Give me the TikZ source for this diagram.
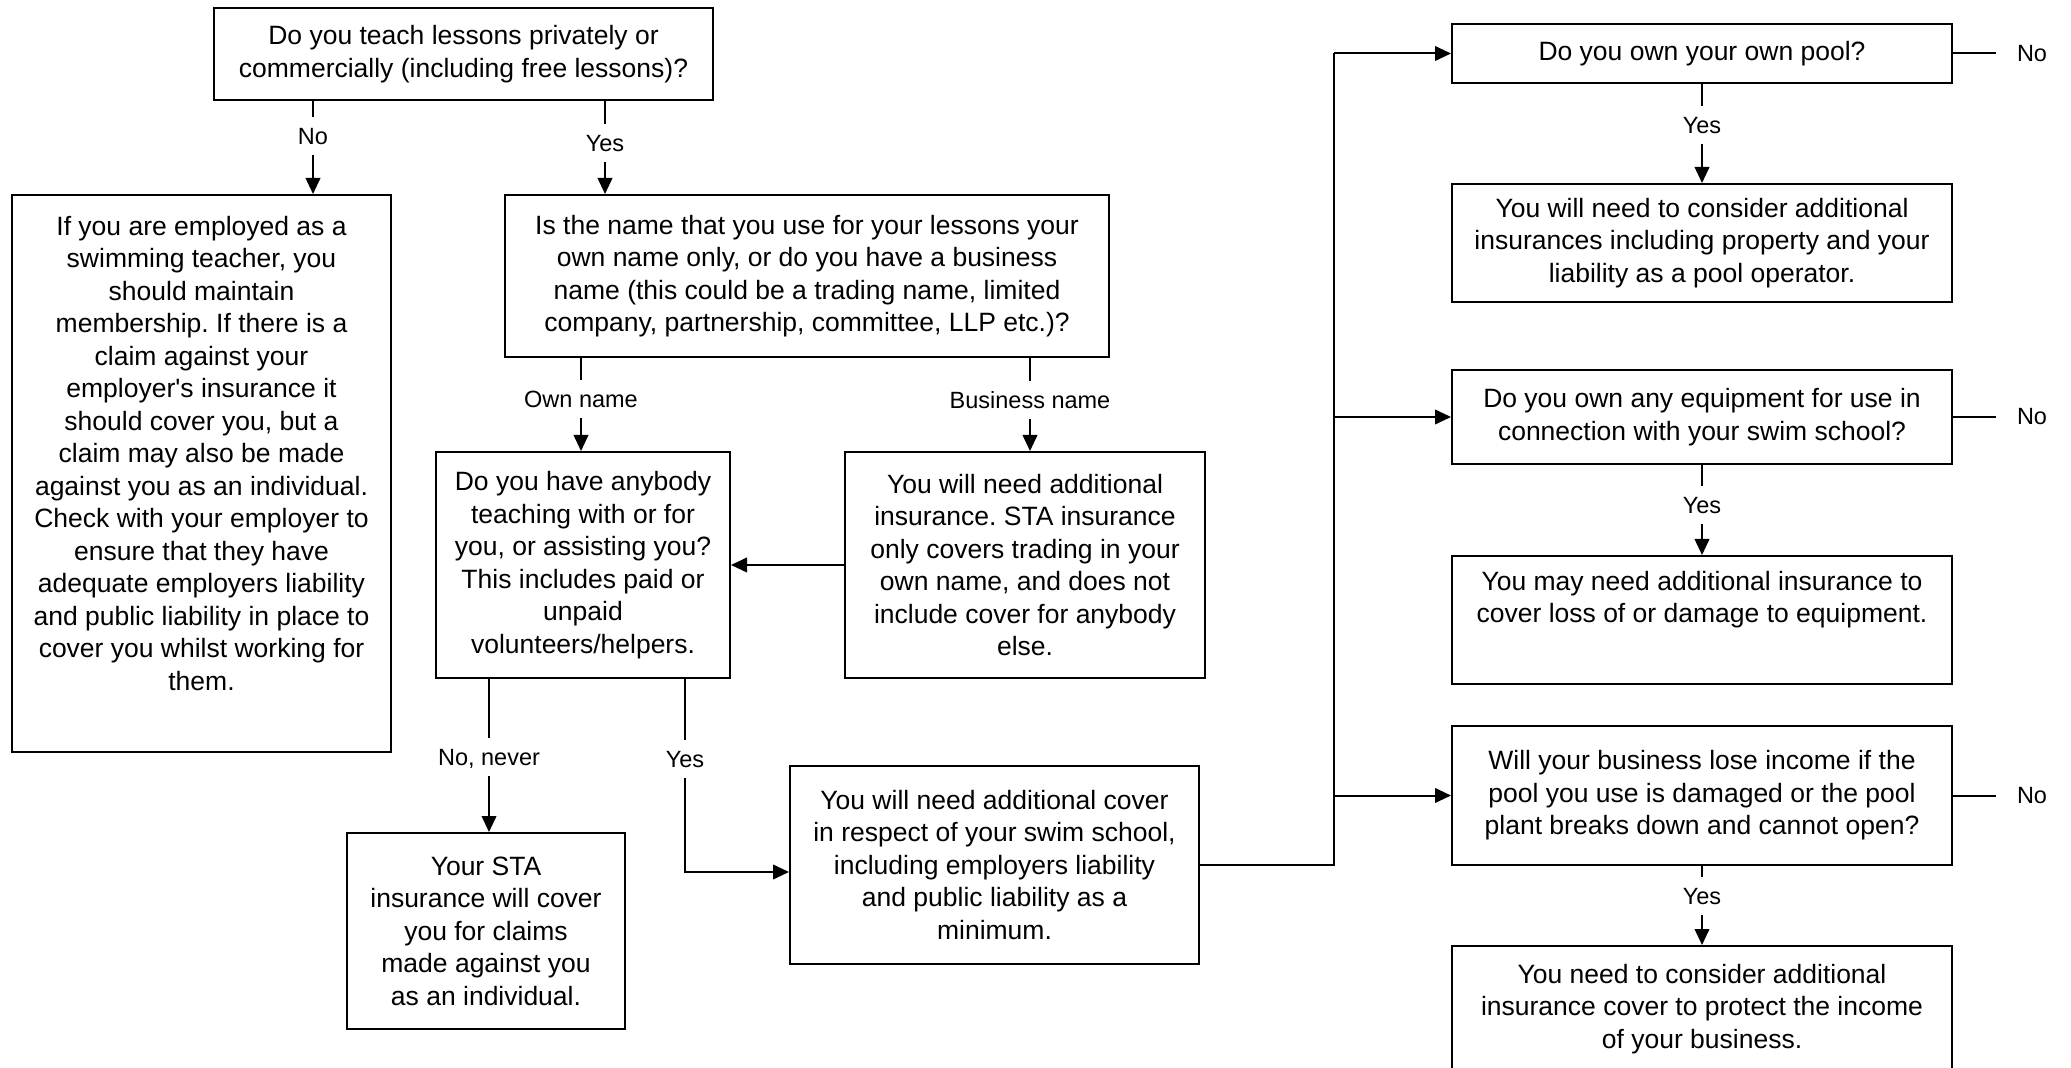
\documentclass[tikz,border=0pt]{standalone}
\usepackage{fontspec}
\setmainfont{Liberation Sans}
\usetikzlibrary{arrows.meta,calc}
\newcommand\bodyfnt{\fontsize{13.25pt}{16.25pt}\selectfont}
\newcommand\lblfnt{\fontsize{11.75pt}{14pt}\selectfont}
\frenchspacing
\begin{document}
\begin{tikzpicture}[x=0.5pt,y=-0.5pt,
  box/.style={draw,line width=1pt,inner sep=0pt,align=center,font=\bodyfnt},
  bodytxt/.style={inner sep=0pt,align=center,font=\bodyfnt},
  lbl/.style={font=\lblfnt,inner xsep=2pt,inner ysep=5pt,text height=8.4pt,text depth=0pt},
  nolbl/.style={font=\lblfnt,inner xsep=10.5pt,inner ysep=2pt},
  conn/.style={line width=1pt},
  arr/.style={line width=1pt,-{Triangle[length=8pt,width=7.3pt]}}]
\useasboundingbox (0,0) rectangle (2071,1068);
\clip (0,0) rectangle (2071,1068);
\fill[white] (0,0) rectangle (2071,1068);

% boxes
\node[box,minimum width=249.5pt,minimum height=46pt] (top) at (463.5,54)
  {Do you teach lessons privately or\\commercially (including free lessons)?};
\node[box,minimum width=189.5pt,minimum height=278.5pt] (left) at (201.5,473.5) {};
\node[bodytxt] (lefttxt) at (201.5,453.5)
  {If you are employed as a\\swimming teacher, you\\should maintain\\membership. If there is a\\claim against your\\employer\textquotesingle s insurance it\\should cover you, but a\\claim may also be made\\against you as an individual.\\Check with your employer to\\ensure that they have\\adequate employers liability\\and public liability in place to\\cover you whilst working for\\them.};
\node[box,minimum width=302pt,minimum height=81pt] (name) at (807,276)
  {Is the name that you use for your lessons your\\own name only, or do you have a business\\name (this could be a trading name, limited\\company, partnership, committee, LLP etc.)?};
\node[box,minimum width=147pt,minimum height=113pt] (anybody) at (583,565)
  {Do you have anybody\\teaching with or for\\you, or assisting you?\\This includes paid or\\unpaid\\volunteers/helpers.};
\node[box,minimum width=180pt,minimum height=113pt] (business) at (1025,565)
  {You will need additional\\insurance. STA insurance\\only covers trading in your\\own name, and does not\\include cover for anybody\\else.};
\node[box,minimum width=139pt,minimum height=98pt] (sta) at (486,931)
  {Your STA\\insurance will cover\\you for claims\\made against you\\as an individual.};
\node[box,minimum width=204.5pt,minimum height=99pt] (cover) at (994.5,865)
  {You will need additional cover\\in respect of your swim school,\\including employers liability\\and public liability as a\\minimum.};
\node[box,minimum width=250pt,minimum height=29.5pt] (pool) at (1702,53.5)
  {Do you own your own pool?};
\node[box,minimum width=250pt,minimum height=59pt] (consider) at (1702,243)
  {You will need to consider additional\\insurances including property and your\\liability as a pool operator.};
\node[box,minimum width=250pt,minimum height=47pt] (equip) at (1702,417)
  {Do you own any equipment for use in\\connection with your swim school?};
\node[box,minimum width=250pt,minimum height=64pt] (equipres) at (1702,620) {};
\node[bodytxt] (equiprestxt) at (1702,599.5)
  {You may need additional insurance to\\cover loss of or damage to equipment.};
\node[box,minimum width=250pt,minimum height=69.5pt] (income) at (1702,795.5)
  {Will your business lose income if the\\pool you use is damaged or the pool\\plant breaks down and cannot open?};
\node[box,minimum width=250pt,minimum height=74pt] (incomeres) at (1702,1020) {};
\node[bodytxt] (incomerestxt) at (1702,1009)
  {You need to consider additional\\insurance cover to protect the income\\of your business.};

% labels
\node[lbl] (l1) at (313,136) {No};
\node[lbl] (l2) at (605,143) {Yes};
\node[lbl] (l3) at (581,399) {Own name};
\node[lbl] (l4) at (1030,400) {Business name};
\node[lbl] (l5) at (489,757) {No, never};
\node[lbl] (l6) at (685,759) {Yes};
\node[lbl] (y1) at (1702,125) {Yes};
\node[lbl] (y2) at (1702,505) {Yes};
\node[lbl] (y3) at (1702,896) {Yes};
\node[nolbl] (n1) at (2032,53.5) {No};
\node[nolbl] (n2) at (2032,417) {No};
\node[nolbl] (n3) at (2032,795.5) {No};

% connectors
\draw[conn] (l1.north |- top.south) -- (l1.north);
\draw[arr] (l1.south) -- (l1.south |- left.north);
\draw[conn] (l2.north |- top.south) -- (l2.north);
\draw[arr] (l2.south) -- (l2.south |- name.north);
\draw[conn] (l3.north |- name.south) -- (l3.north);
\draw[arr] (l3.south) -- (l3.south |- anybody.north);
\draw[conn] (l4.north |- name.south) -- (l4.north);
\draw[arr] (l4.south) -- (l4.south |- business.north);
\draw[arr] (business.west) -- (anybody.east);
\draw[conn] (l5.north |- anybody.south) -- (l5.north);
\draw[arr] (l5.south) -- (l5.south |- sta.north);
\draw[conn] (l6.north |- anybody.south) -- (l6.north);
\draw[arr] (l6.south) |- ([yshift=-3.5pt]cover.west);

\coordinate (spine) at (1334,500);
\draw[conn] (cover.east) -| (spine |- pool.west);
\draw[arr] (spine |- pool.west) -- (pool.west);
\draw[arr] (spine |- equip.west) -- (equip.west);
\draw[arr] (spine |- income.west) -- (income.west);

\draw[conn] (y1.north |- pool.south) -- (y1.north);
\draw[arr] (y1.south) -- (y1.south |- consider.north);
\draw[conn] (y2.north |- equip.south) -- (y2.north);
\draw[arr] (y2.south) -- (y2.south |- equipres.north);
\draw[conn] (y3.north |- income.south) -- (y3.north);
\draw[arr] (y3.south) -- (y3.south |- incomeres.north);

\draw[conn] (pool.east) -- (n1.west);
\draw[conn] (equip.east) -- (n2.west);
\draw[conn] (income.east) -- (n3.west);
\end{tikzpicture}
\end{document}
